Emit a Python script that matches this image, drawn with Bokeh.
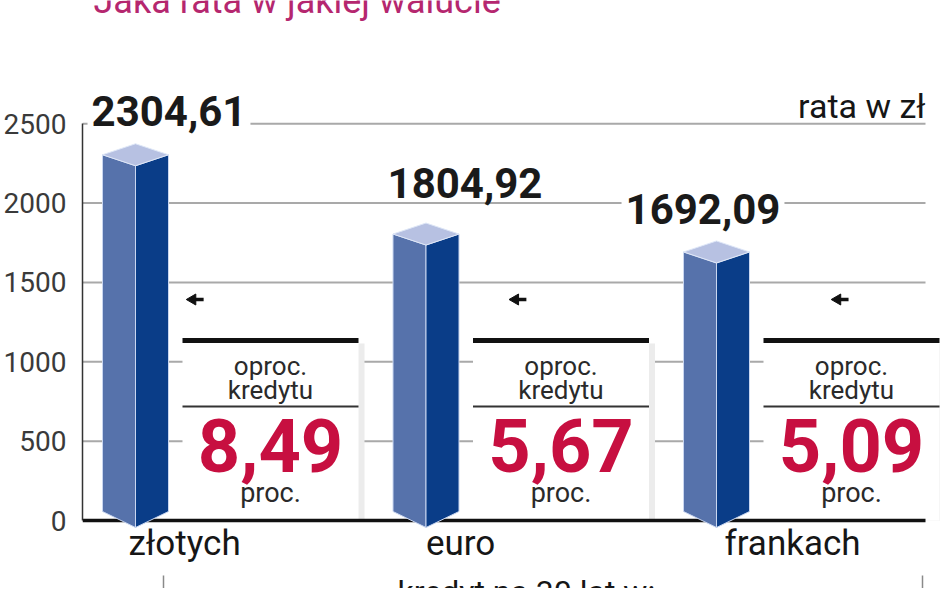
import math
from bokeh.plotting import figure
from bokeh.models import Range1d, FixedTicker, LinearAxis
from bokeh.core.properties import value
from bokeh.embed import file_html
from bokeh.resources import INLINE

# ---------------- data ----------------
title_text = "Jaka rata w jakiej walucie"
categories = ["złotych", "euro", "frankach"]
rata_zl = [2304.61, 1804.92, 1692.09]
oprocentowanie = [8.49, 5.67, 5.09]
y_ticks = [0, 500, 1000, 1500, 2000, 2500]
unit_text = "rata w zł"
box_head = ["oproc.", "kredytu"]
box_unit = "proc."
footer_text = "kredyt na 30 lat w:"


def pl(v):
    return f"{v:.2f}".replace(".", ",")


# ---------------- layout (pixels) ----------------
W, H = 940, 588
FRAME_LEFT = 82
PX_PER_CAT = 290.5
PX_PER_ZL = 0.1587
CAT0_PX = 53      # first category centre, px right of frame left
ZERO_PX = 520     # value 0, px below canvas top


def dx(px):
    return px / PX_PER_CAT


def dy(px):
    return px / PX_PER_ZL


def mid(base_px, size):
    # vertical centre of a text whose baseline lies base_px above the zero line
    return dy(base_px + 0.34 * size)


x_start = -dx(CAT0_PX)
x_stop = x_start + dx(W - FRAME_LEFT)
y_stop = dy(ZERO_PX)
y_start = -dy(H - ZERO_PX)
x_line_end = dx(790)

FONT = value("Roboto")

p = figure(width=W, height=H,
           x_range=Range1d(x_start, x_stop), y_range=Range1d(y_start, y_stop),
           output_backend="svg", toolbar_location=None,
           x_axis_location=None, y_axis_location=None,
           min_border_left=FRAME_LEFT, min_border_right=0,
           min_border_top=0, min_border_bottom=0)
p.grid.visible = False
p.outline_line_color = None
p.background_fill_color = "white"
p.border_fill_color = "white"

n = len(categories)
cx = list(range(n))

# grid lines
grid_vals = [t for t in y_ticks if t > 0]
p.segment(x0=[x_start] * len(grid_vals), y0=grid_vals,
          x1=[x_line_end] * len(grid_vals), y1=grid_vals,
          line_color="#a9a9a9", line_width=2)

# info boxes
box_l = [c + dx(47) for c in cx]
box_r = [c + dx(223) for c in cx]
box_c = [c + dx(135) for c in cx]
box_top = dy(180)
p.quad(left=[v + dx(3) for v in box_l], right=[v + dx(6) for v in box_r],
       bottom=[0] * n, top=[box_top - dy(3)] * n,
       fill_color="#ececec", line_color=None)
p.quad(left=box_l, right=box_r, bottom=[0] * n, top=[box_top] * n,
       fill_color="white", line_color=None)
p.segment(x0=box_l, y0=[box_top] * n, x1=box_r, y1=[box_top] * n,
          line_color="#111111", line_width=5)
p.segment(x0=box_l, y0=[dy(114)] * n, x1=box_r, y1=[dy(114)] * n,
          line_color="#333333", line_width=2)
p.text(x=box_c, y=[mid(146, 26)] * n, text=[box_head[0]] * n,
       text_align="center", text_baseline="middle",
       text_font=FONT, text_font_size=value("26px"), text_color="#2a2a2a")
p.text(x=box_c, y=[mid(122, 26)] * n, text=[box_head[1]] * n,
       text_align="center", text_baseline="middle",
       text_font=FONT, text_font_size=value("26px"), text_color="#2a2a2a")
p.text(x=box_c, y=[mid(50, 74)] * n, text=[pl(v) for v in oprocentowanie],
       text_align="center", text_baseline="middle",
       text_font=FONT, text_font_style="bold", text_font_size=value("74px"),
       text_color="#c70f40")
p.text(x=box_c, y=[mid(18, 27)] * n, text=[box_unit] * n,
       text_align="center", text_baseline="middle",
       text_font=FONT, text_font_size=value("27px"), text_color="#2a2a2a")

# base line
p.segment(x0=[x_start], y0=[0], x1=[x_line_end], y1=[0],
          line_color="#111111", line_width=3.5)

# 3D bars
hw = dx(33)
d = dy(11)
bs = dy(9)
bf = dy(7)
left_xs, left_ys, right_xs, right_ys, cap_xs, cap_ys = [], [], [], [], [], []
for c, v in zip(cx, rata_zl):
    left_xs.append([c - hw, c, c, c - hw])
    left_ys.append([v, v - d, -bf, bs])
    right_xs.append([c, c + hw, c + hw, c])
    right_ys.append([v - d, v, bs, -bf])
    cap_xs.append([c - hw, c, c + hw, c])
    cap_ys.append([v, v + d, v, v - d])
p.patches(left_xs, left_ys, fill_color="#5672ab", line_color="#c9d6f0", line_width=1)
p.patches(right_xs, right_ys, fill_color="#0a3d88", line_color="#c9d6f0", line_width=1)
p.patches(cap_xs, cap_ys, fill_color="#b7c1e2", line_color="#dfe7f7", line_width=1)

# value labels
label_dx = [33.5, 39, -13.5]
label_dy = [29, 37, 28.5]
p.text(x=[c + dx(o) for c, o in zip(cx, label_dx)],
       y=[v + mid(o, 42) for v, o in zip(rata_zl, label_dy)],
       text=[pl(v) for v in rata_zl],
       text_align="center", text_baseline="middle",
       text_font=FONT, text_font_style="bold", text_font_size=value("42px"),
       text_color="#1a1a1a", background_fill_color="white", padding=4)

# small arrows
arrow_x = [0.207, 1.318, 2.427]
arrow_y = dy(221)
p.segment(x0=[a - dx(1) for a in arrow_x], y0=[arrow_y] * 3,
          x1=[a + dx(8) for a in arrow_x], y1=[arrow_y] * 3,
          line_color="#111111", line_width=3.5)
p.scatter(x=[a - dx(3) for a in arrow_x], y=[arrow_y] * 3, marker="triangle",
          size=11, angle=math.pi / 2, fill_color="#111111", line_color="#111111")

# y axis
ax = LinearAxis(ticker=FixedTicker(ticks=y_ticks), bounds=(0, 2500))
ax.major_tick_out = 0
ax.major_tick_in = 0
ax.minor_tick_out = 0
ax.minor_tick_in = 0
ax.axis_line_color = "#333333"
ax.axis_line_width = 1.5
ax.major_label_standoff = 16
ax.major_label_text_font = "Roboto"
ax.major_label_text_font_size = "28px"
ax.major_label_text_color = "#3a3a3a"
p.add_layout(ax, "left")

# category labels
cat_dx = [-7, 0, 8]
p.text(x=[c + dx(o) for c, o in zip(cx, cat_dx)], y=[mid(-35, 35)] * n, text=categories,
       text_align="left", text_baseline="middle",
       text_font=FONT, text_font_size=value("35px"), text_color="#161616")

# unit label
p.text(x=[x_line_end], y=[mid(403, 34)], text=[unit_text],
       text_align="right", text_baseline="middle",
       text_font=FONT, text_font_size=value("34px"), text_color="#161616")

# title (cut at top)
p.text(x=[-dx(42)], y=[mid(507, 36)], text=[title_text],
       text_align="left", text_baseline="middle",
       text_font=FONT, text_font_size=value("36px"), text_color="#b5276f")

# footer and bracket
p.text(x=[dx(262)], y=[-dy(52)], text=[footer_text],
       text_align="left", text_baseline="top",
       text_font=FONT, text_font_size=value("32px"), text_color="#161616")
p.segment(x0=[dx(28), dx(787)], y0=[-dy(55)] * 2,
          x1=[dx(28), dx(787)], y1=[y_start] * 2,
          line_color="#8a8a8a", line_width=1.5)

open("out.html", "w").write(file_html(p, INLINE))
